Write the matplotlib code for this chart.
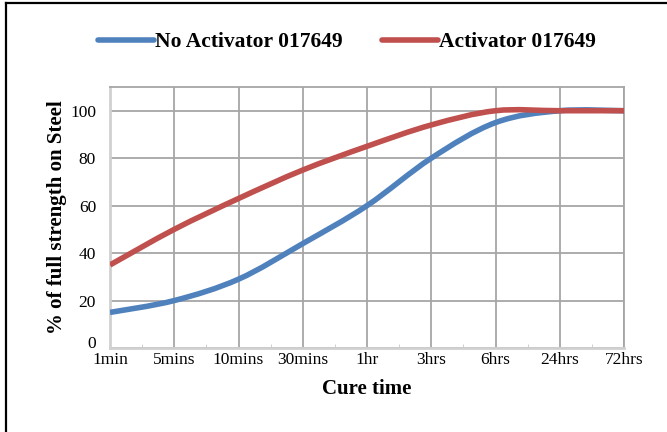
import numpy as np
import matplotlib
matplotlib.use("Agg")
import matplotlib.pyplot as plt
import matplotlib.transforms as mtransforms
from matplotlib.path import Path
from matplotlib.patches import PathPatch
from matplotlib.lines import Line2D

plt.rcParams['font.family'] = ['Liberation Serif', 'DejaVu Serif']

# data
cure_times = ['1min', '5mins', '10mins', '30mins', '1hr', '3hrs', '6hrs', '24hrs', '72hrs']
no_activator = [15, 20, 29, 44, 60, 80, 95, 100, 100]
activator = [35, 50, 63, 75, 85, 94, 100, 100, 100]

blue = '#4F81BD'
red = '#C0504D'
grid_col = '#A6A6A6'


def smooth_path(xs, ys):
    # bezier curve through the points (like excel "smoothed line")
    pts = np.column_stack([xs, ys]).astype(float)
    n = len(pts)
    verts = [pts[0]]
    codes = [Path.MOVETO]
    for i in range(n - 1):
        p0 = pts[i - 1] if i > 0 else pts[i]
        p1 = pts[i]
        p2 = pts[i + 1]
        p3 = pts[i + 2] if i + 2 < n else pts[i + 1]
        c1 = p1 + (p2 - p0) / 6.0
        c2 = p2 - (p3 - p1) / 6.0
        verts += [c1, c2, p2]
        codes += [Path.CURVE4] * 3
    return Path(verts, codes)


fig = plt.figure(figsize=(6.67, 4.32), dpi=100)
ax = fig.add_axes([110 / 667, 1 - 348 / 432, 514 / 667, 261 / 432])

x = np.arange(len(cure_times))
for vals, col, lab in [(no_activator, blue, 'No Activator 017649'),
                       (activator, red, 'Activator 017649')]:
    ax.add_patch(PathPatch(smooth_path(x, vals), facecolor='none', edgecolor=col,
                           linewidth=4.0, capstyle='butt', zorder=3))
    # empty line only for the legend entry
    ax.plot([], [], color=col, linewidth=4.0, solid_capstyle='round', label=lab)

ax.set_xlim(0, len(cure_times) - 1)
ax.set_ylim(0, 110)
ax.set_xticks(x)
ax.set_xticklabels(cure_times, fontsize=12.5)
ax.set_xticks(x[:-1] + 0.5, minor=True)
ax.set_yticks([0, 20, 40, 60, 80, 100])
ax.set_yticklabels(['0', '20', '40', '60', '80', '100'], fontsize=12.5)
ax.tick_params(axis='x', which='major', length=0, pad=3)
ax.tick_params(axis='x', which='minor', length=3, direction='in', color='#C8C8C8')
ax.tick_params(axis='y', length=0, pad=10)

# the "0" sits a little higher so it doesn't run into "1min"
zero_lbl = ax.get_yticklabels()[0]
zero_lbl.set_transform(zero_lbl.get_transform() +
                       mtransforms.ScaledTranslation(0, 4 / 72, fig.dpi_scale_trans))

ax.grid(True, color=grid_col, linewidth=1.3)
ax.set_axisbelow(True)
for s in ax.spines.values():
    s.set_color(grid_col)
    s.set_linewidth(1.3)
ax.spines['left'].set_color('#D0D0D0')
ax.spines['bottom'].set_color('#D0D0D0')
ax.spines['left'].set_linewidth(2)
ax.spines['bottom'].set_linewidth(2)

ax.set_xlabel('Cure time', fontsize=15, fontweight='bold', labelpad=8)
ax.set_ylabel('% of full strength on Steel', fontsize=15, fontweight='bold', labelpad=2)

fig.legend(loc='center', bbox_to_anchor=(347 / 667, 1 - 42 / 432), ncol=2, frameon=False,
           prop={'size': 15.5, 'weight': 'bold'}, handlelength=2.6, handletextpad=0.05,
           columnspacing=1.8)

# outer frame (only top and left visible)
fig.add_artist(Line2D([6 / 667, 6 / 667], [0, 1 - 3 / 432], color='black', linewidth=1.6,
                      transform=fig.transFigure))
fig.add_artist(Line2D([6 / 667, 1], [1 - 3 / 432, 1 - 3 / 432], color='black', linewidth=1.6,
                      transform=fig.transFigure))

fig.savefig('out.png', dpi=100)
